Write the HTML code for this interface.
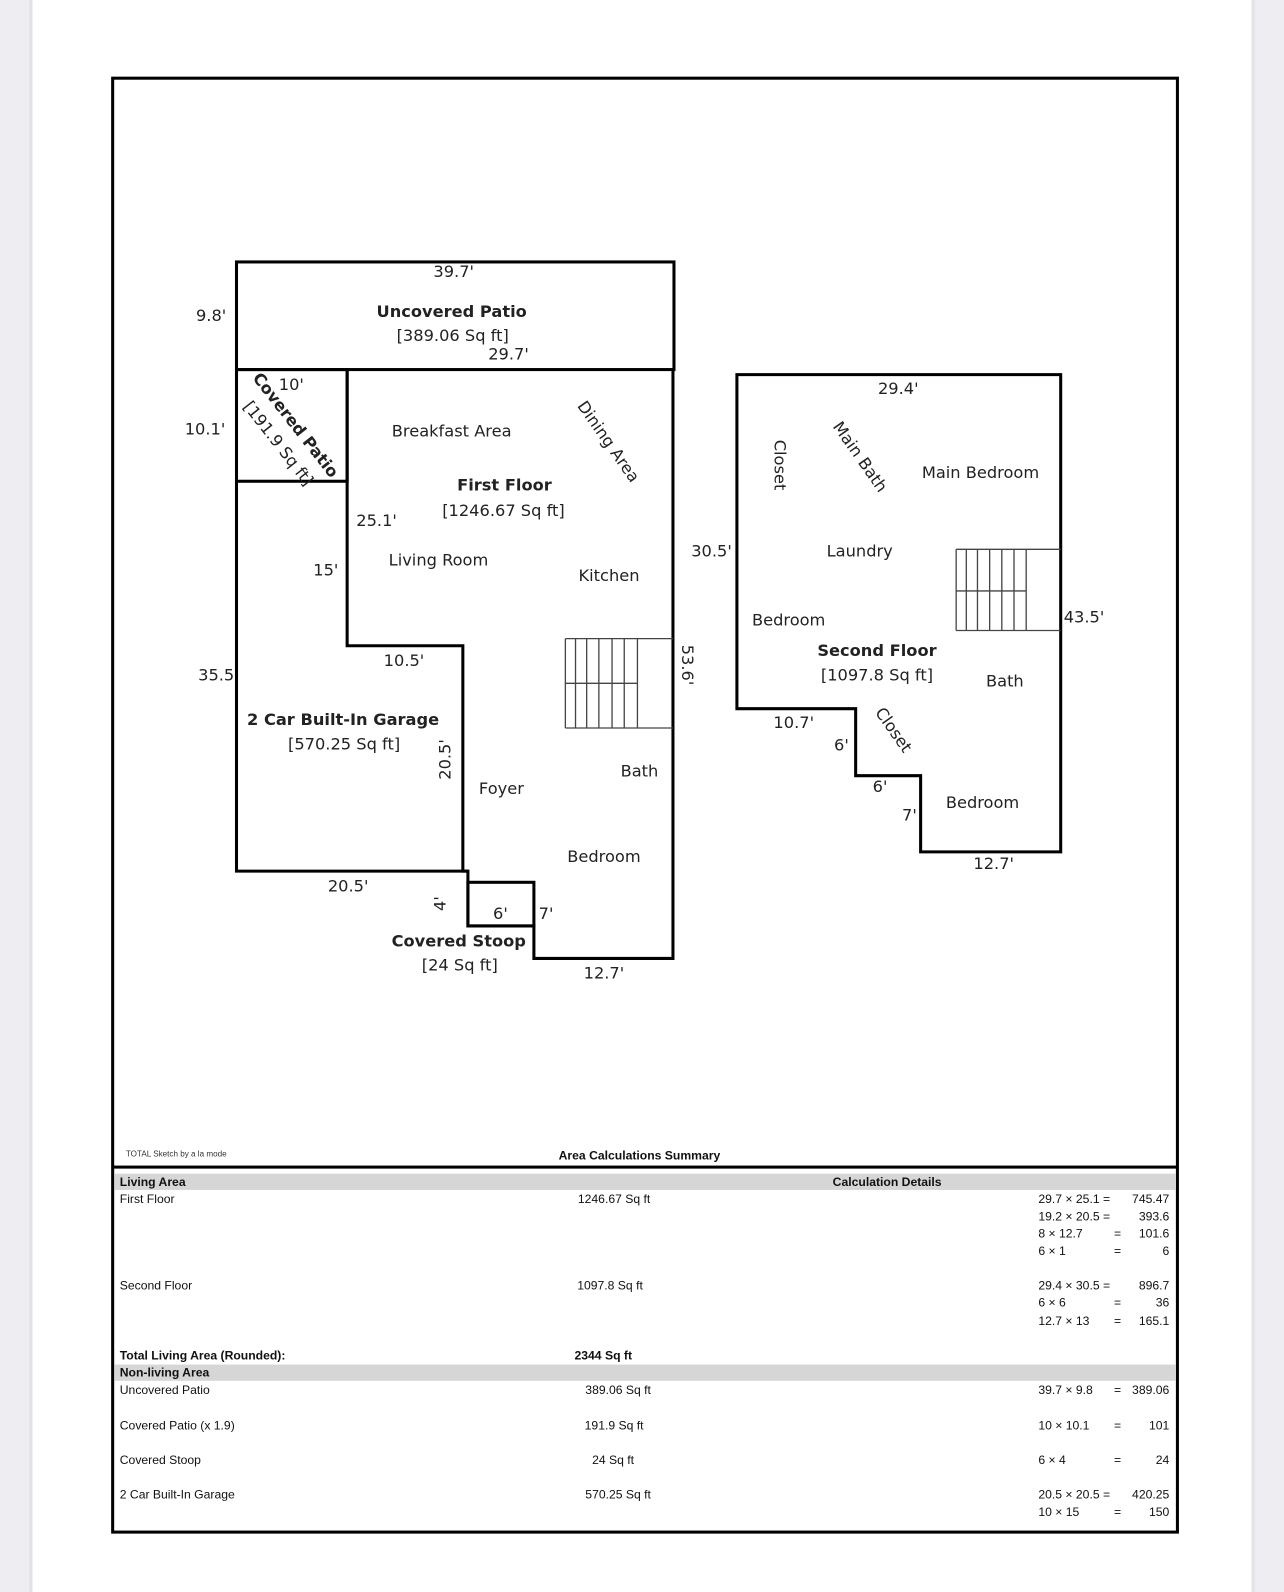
<!DOCTYPE html>
<html><head><meta charset="utf-8"><style>
html,body{margin:0;padding:0;background:#fff;}
svg{display:block;}
.l{font-family:"DejaVu Sans","Liberation Sans",sans-serif;font-size:16px;fill:#222;}
.b{font-weight:bold;}
.t{font-family:"Liberation Sans",sans-serif;font-size:12px;fill:#111;}
</style></head><body>
<svg width="1284" height="1592" viewBox="0 0 1265 1568" preserveAspectRatio="none" xmlns="http://www.w3.org/2000/svg">
<rect x="0" y="0" width="1265" height="1568" fill="#fff"/>
<rect x="0" y="0" width="31" height="1568" fill="#eeeef2"/>
<rect x="29" y="0" width="3" height="1568" fill="#e2e2e6"/>
<rect x="1233" y="0" width="32" height="1568" fill="#eeeef2"/>
<rect x="1233" y="0" width="3" height="1568" fill="#e2e2e6"/>
<rect x="111" y="77" width="1049" height="1432" fill="none" stroke="#000" stroke-width="3"/>

<g fill="none" stroke="#000" stroke-width="3">
<rect x="233" y="258" width="431" height="106"/>
<rect x="233" y="364" width="109" height="110"/>
<polyline points="233,474 233,858 461,858"/>
<polyline points="342,364 342,636 456,636 456,858 461,858 461,912 526,912 526,944 663,944 663,364"/>
<rect x="461" y="869" width="65" height="43"/>
<polygon points="726,369 1045,369 1045,839 907,839 907,764 843,764 843,698 726,698"/>
</g>
<g stroke="#444" stroke-width="1.3">
<line x1="557" y1="629" x2="663" y2="629"/><line x1="557" y1="717" x2="663" y2="717"/><line x1="557" y1="673" x2="628" y2="673"/>
<line x1="557" y1="629" x2="557" y2="717"/><line x1="567" y1="629" x2="567" y2="717"/><line x1="578" y1="629" x2="578" y2="717"/><line x1="590" y1="629" x2="590" y2="717"/><line x1="603" y1="629" x2="603" y2="717"/><line x1="615" y1="629" x2="615" y2="717"/><line x1="628" y1="629" x2="628" y2="717"/>
<line x1="942" y1="541" x2="1045" y2="541"/><line x1="942" y1="621" x2="1045" y2="621"/><line x1="942" y1="582" x2="1011" y2="582"/>
<line x1="942" y1="541" x2="942" y2="621"/><line x1="952" y1="541" x2="952" y2="621"/><line x1="963" y1="541" x2="963" y2="621"/><line x1="975" y1="541" x2="975" y2="621"/><line x1="987" y1="541" x2="987" y2="621"/><line x1="999" y1="541" x2="999" y2="621"/><line x1="1011" y1="541" x2="1011" y2="621"/>
</g>

<g class="l">
<text x="447" y="273" text-anchor="middle">39.7'</text>
<text x="445" y="312" text-anchor="middle" class="b">Uncovered Patio</text>
<text x="446" y="336" text-anchor="middle">[389.06 Sq ft]</text>
<text x="501" y="354" text-anchor="middle">29.7'</text>
<text x="208" y="316" text-anchor="middle">9.8'</text>
<text x="287" y="384" text-anchor="middle">10'</text>
<text x="202" y="428" text-anchor="middle">10.1'</text>
<text transform="translate(287,422) rotate(52)" text-anchor="middle" class="b">Covered Patio</text>
<text transform="translate(270,440) rotate(52)" text-anchor="middle">[191.9 Sq ft]</text>
<text x="445" y="430" text-anchor="middle">Breakfast Area</text>
<text transform="translate(595,438) rotate(55)" text-anchor="middle">Dining Area</text>
<text x="497" y="483" text-anchor="middle" class="b">First Floor</text>
<text x="496" y="508" text-anchor="middle">[1246.67 Sq ft]</text>
<text x="371" y="518" text-anchor="middle">25.1'</text>
<text x="432" y="557" text-anchor="middle">Living Room</text>
<text x="321" y="567" text-anchor="middle">15'</text>
<text x="600" y="572" text-anchor="middle">Kitchen</text>
<text x="398" y="656" text-anchor="middle">10.5'</text>
<text x="213" y="670" text-anchor="middle">35.5</text>
<text transform="translate(672,655) rotate(90)" text-anchor="middle">53.6'</text>
<text x="338" y="714" text-anchor="middle" class="b">2 Car Built-In Garage</text>
<text x="339" y="738" text-anchor="middle">[570.25 Sq ft]</text>
<text transform="translate(444,748) rotate(-90)" text-anchor="middle">20.5'</text>
<text x="630" y="765" text-anchor="middle">Bath</text>
<text x="494" y="782" text-anchor="middle">Foyer</text>
<text x="595" y="849" text-anchor="middle">Bedroom</text>
<text x="343" y="878" text-anchor="middle">20.5'</text>
<text transform="translate(439,890) rotate(-90)" text-anchor="middle">4'</text>
<text x="493" y="905" text-anchor="middle">6'</text>
<text x="538" y="905" text-anchor="middle">7'</text>
<text x="452" y="932" text-anchor="middle" class="b">Covered Stoop</text>
<text x="453" y="956" text-anchor="middle">[24 Sq ft]</text>
<text x="595" y="964" text-anchor="middle">12.7'</text>

<text x="885" y="388" text-anchor="middle">29.4'</text>
<text transform="translate(763,458) rotate(90)" text-anchor="middle">Closet</text>
<text transform="translate(843,453) rotate(55)" text-anchor="middle">Main Bath</text>
<text x="966" y="471" text-anchor="middle">Main Bedroom</text>
<text x="847" y="548" text-anchor="middle">Laundry</text>
<text x="701" y="548" text-anchor="middle">30.5'</text>
<text x="777" y="616" text-anchor="middle">Bedroom</text>
<text x="1068" y="613" text-anchor="middle">43.5'</text>
<text x="864" y="646" text-anchor="middle" class="b">Second Floor</text>
<text x="864" y="670" text-anchor="middle">[1097.8 Sq ft]</text>
<text x="990" y="676" text-anchor="middle">Bath</text>
<text x="782" y="717" text-anchor="middle">10.7'</text>
<text transform="translate(876,722) rotate(55)" text-anchor="middle">Closet</text>
<text x="829" y="739" text-anchor="middle">6'</text>
<text x="867" y="780" text-anchor="middle">6'</text>
<text x="896" y="808" text-anchor="middle">7'</text>
<text x="968" y="796" text-anchor="middle">Bedroom</text>
<text x="979" y="856" text-anchor="middle">12.7'</text>
</g>

<text x="124" y="1139" style="font-family:'Liberation Sans',sans-serif;font-size:8px;fill:#333">TOTAL Sketch by a la mode</text>
<text x="630" y="1142" text-anchor="middle" class="t b">Area Calculations Summary</text>
<rect x="111" y="1148" width="1049" height="3" fill="#000"/>
<rect x="113" y="1156" width="1045" height="16" fill="#d6d6d6"/>
<rect x="113" y="1344" width="1045" height="16" fill="#d6d6d6"/>
<g class="t">
<text x="118" y="1168" class="b">Living Area</text>
<text x="874" y="1168" text-anchor="middle" class="b">Calculation Details</text>
<text x="118" y="1185">First Floor</text>
<text x="605" y="1185" text-anchor="middle">1246.67 Sq ft</text>
<text x="1023" y="1185">29.7 × 25.1 =</text><text x="1152" y="1185" text-anchor="end">745.47</text>
<text x="1023" y="1202">19.2 × 20.5 =</text><text x="1152" y="1202" text-anchor="end">393.6</text>
<text x="1023" y="1219">8 × 12.7</text><text x="1101" y="1219" text-anchor="middle">=</text><text x="1152" y="1219" text-anchor="end">101.6</text>
<text x="1023" y="1236">6 × 1</text><text x="1101" y="1236" text-anchor="middle">=</text><text x="1152" y="1236" text-anchor="end">6</text>
<text x="118" y="1270">Second Floor</text>
<text x="601" y="1270" text-anchor="middle">1097.8 Sq ft</text>
<text x="1023" y="1270">29.4 × 30.5 =</text><text x="1152" y="1270" text-anchor="end">896.7</text>
<text x="1023" y="1287">6 × 6</text><text x="1101" y="1287" text-anchor="middle">=</text><text x="1152" y="1287" text-anchor="end">36</text>
<text x="1023" y="1305">12.7 × 13</text><text x="1101" y="1305" text-anchor="middle">=</text><text x="1152" y="1305" text-anchor="end">165.1</text>
<text x="118" y="1339" class="b">Total Living Area (Rounded):</text>
<text x="566" y="1339" class="b">2344 Sq ft</text>
<text x="118" y="1356" class="b">Non-living Area</text>
<text x="118" y="1373">Uncovered Patio</text>
<text x="609" y="1373" text-anchor="middle">389.06 Sq ft</text>
<text x="1023" y="1373">39.7 × 9.8</text><text x="1101" y="1373" text-anchor="middle">=</text><text x="1152" y="1373" text-anchor="end">389.06</text>
<text x="118" y="1408">Covered Patio (x 1.9)</text>
<text x="605" y="1408" text-anchor="middle">191.9 Sq ft</text>
<text x="1023" y="1408">10 × 10.1</text><text x="1101" y="1408" text-anchor="middle">=</text><text x="1152" y="1408" text-anchor="end">101</text>
<text x="118" y="1442">Covered Stoop</text>
<text x="604" y="1442" text-anchor="middle">24 Sq ft</text>
<text x="1023" y="1442">6 × 4</text><text x="1101" y="1442" text-anchor="middle">=</text><text x="1152" y="1442" text-anchor="end">24</text>
<text x="118" y="1476">2 Car Built-In Garage</text>
<text x="609" y="1476" text-anchor="middle">570.25 Sq ft</text>
<text x="1023" y="1476">20.5 × 20.5 =</text><text x="1152" y="1476" text-anchor="end">420.25</text>
<text x="1023" y="1493">10 × 15</text><text x="1101" y="1493" text-anchor="middle">=</text><text x="1152" y="1493" text-anchor="end">150</text>
</g>
</svg>
</body></html>
